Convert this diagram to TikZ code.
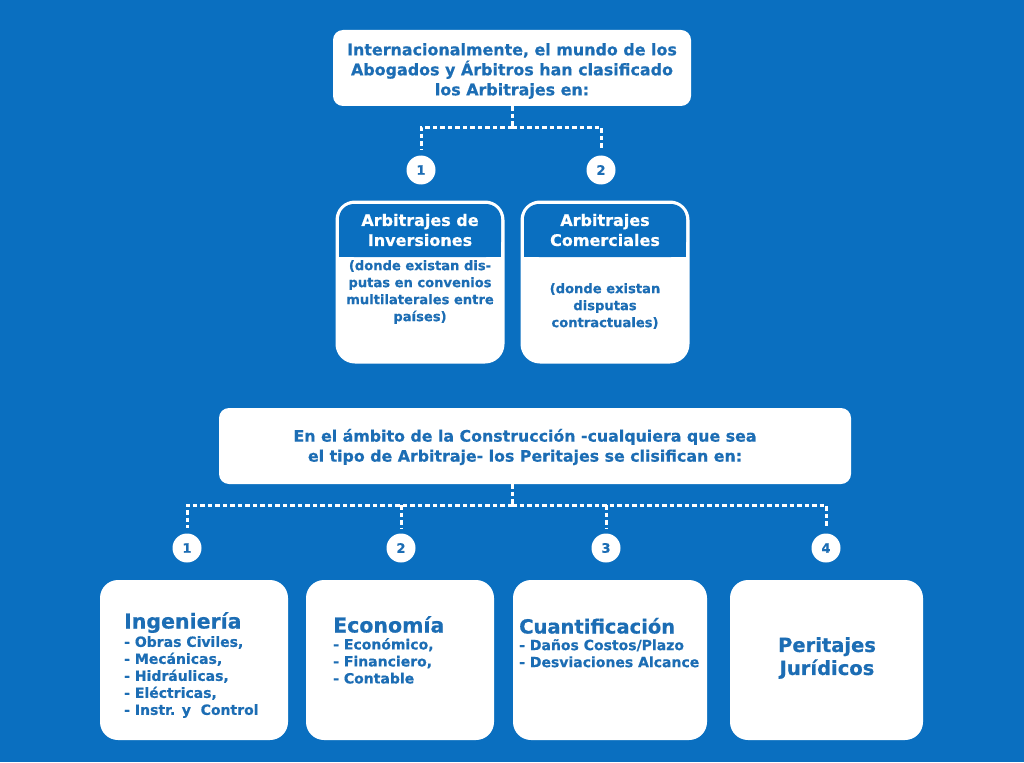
\documentclass[tikz,border=0pt]{standalone}
\usepackage{fontspec}
\setmainfont{DejaVu Sans}[BoldFont={DejaVu Sans Bold}, BoldFeatures={FakeBold=0.6}]
\usetikzlibrary{calc}
\definecolor{bg}{HTML}{0A6FC0}
\definecolor{tx}{HTML}{1C6DB4}
\tikzset{
  wbox/.style={fill=white, draw=none, rounded corners=10pt, inner sep=0pt},
  obox/.style={fill=white, draw=white, line width=3pt, rounded corners=18pt, inner sep=0pt},
  num/.style={circle, fill=white, minimum size=29pt, inner sep=0pt, text=tx, font=\bfseries\fontsize{13}{13}\selectfont},
  dline/.style={draw=white, line width=3pt, dash pattern=on 4.5pt off 3pt},
  ttext/.style={text=tx, font=\bfseries\fontsize{15.9}{20}\selectfont, align=center},
  htext/.style={text=white, font=\bfseries\fontsize{16}{20}\selectfont, align=center},
  btext/.style={text=tx, font=\bfseries\fontsize{13.1}{17}\selectfont, align=center},
  big/.style={text=tx, font=\bfseries\fontsize{20.5}{20}\selectfont, anchor=west, inner sep=0pt, text height=15pt, text depth=0pt},
  items/.style={text=tx, font=\bfseries\fontsize{14}{17}\selectfont, align=left, anchor=north west, inner sep=0pt},
}
\begin{document}
\begin{tikzpicture}[x=1pt,y=-1pt]
\fill[bg] (0,0) rectangle (1024,762);
\useasboundingbox (0,0) rectangle (1024,762);

% top box
\node[wbox, minimum width=358pt, minimum height=76pt] (top) at (512,68) {};
\node[ttext] (toptext) at (512,71) {Internacionalmente, el mundo de los\\Abogados y Árbitros han clasificado\\los Arbitrajes en:};

% circles 1,2
\node[num] (a1) at (421,170) {1};
\node[num] (a2) at (601,170) {2};

% small boxes
\node[obox, minimum width=166pt, minimum height=160pt] (inv) at (420,282) {};
\node[obox, minimum width=166pt, minimum height=160pt] (com) at (605,282) {};
\fill[bg, rounded corners=15pt] (339,204) rectangle (501,257);
\fill[bg] (339,230) rectangle (501,257);
\fill[bg, rounded corners=15pt] (524,204) rectangle (686,257);
\fill[bg] (524,230) rectangle (686,257);
\node[htext] (invh) at (420,230) {Arbitrajes de\\Inversiones};
\node[htext] (comh) at (605,230) {Arbitrajes\\Comerciales};
\node[btext] (invb) at (420,292) {(donde existan dis-\\putas en convenios\\multilaterales entre\\países)};
\node[btext] (comb) at (605,306) {(donde existan\\disputas\\contractuales)};

% connectors top
\coordinate (tj) at ($(top.south)+(0,21)$);
\draw[dline] (top.south) -- (tj);
\draw[dline, shorten >=6pt] (tj) -| (a1.north);
\draw[dline, shorten >=6pt] (tj) -| (a2.north);

% middle box
\node[wbox, minimum width=632pt, minimum height=76pt] (mid) at (535,446) {};
\node[ttext, font=\bfseries\fontsize{15.8}{20}\selectfont] (midtext) at (525,447) {En el ámbito de la Construcción -cualquiera que sea\\el tipo de Arbitraje- los Peritajes se clisifican en:};

% circles 1-4
\node[num] (b1) at (187,548) {1};
\node[num] (b2) at (401,548) {2};
\node[num] (b3) at (606,548) {3};
\node[num] (b4) at (826,548) {4};

\coordinate (ms) at (top.south |- mid.south);
\coordinate (mj) at ($(ms)+(0,21)$);
\draw[dline] (ms) -- (mj);
\draw[dline, shorten >=5pt] (mj) -| (b1.north);
\draw[dline, shorten >=5pt] (mj) -| (b4.north);
\coordinate (mj2) at (b2.north |- mj);
\coordinate (mj3) at (b3.north |- mj);
\draw[dline, shorten >=5pt] (mj2) -- (b2.north);
\draw[dline, shorten >=5pt] (mj3) -- (b3.north);

% bottom boxes
\node[wbox, rounded corners=18pt, minimum width=188pt, minimum height=160pt] (ing) at (194,660) {};
\node[wbox, rounded corners=18pt, minimum width=188pt, minimum height=160pt] (eco) at (400,660) {};
\node[wbox, rounded corners=18pt, minimum width=194pt, minimum height=160pt] (cua) at (610,660) {};
\node[wbox, rounded corners=18pt, minimum width=193pt, minimum height=160pt] (per) at (826.5,660) {};

\node[big] (ingt) at (124,621) {Ingeniería};
\node[items] (ingi) at (124,636) {- Obras Civiles,\\- Mecánicas,\\- Hidráulicas,\\- Eléctricas,\\- Instr. y\ \ Control};
\node[big] (ecot) at (333,625) {Economía};
\node[items] (ecoi) at (333,638) {- Económico,\\- Financiero,\\- Contable};
\node[big, font=\bfseries\fontsize{19.5}{19}\selectfont] (cuat) at (519,626) {Cuantificación};
\node[items] (cuai) at (519,639) {- Daños Costos/Plazo\\- Desviaciones Alcance};
\node[text=tx, font=\bfseries\fontsize{19.5}{23}\selectfont, align=center] (pert) at (827,658) {Peritajes\\Jurídicos};
\end{tikzpicture}
\end{document}
